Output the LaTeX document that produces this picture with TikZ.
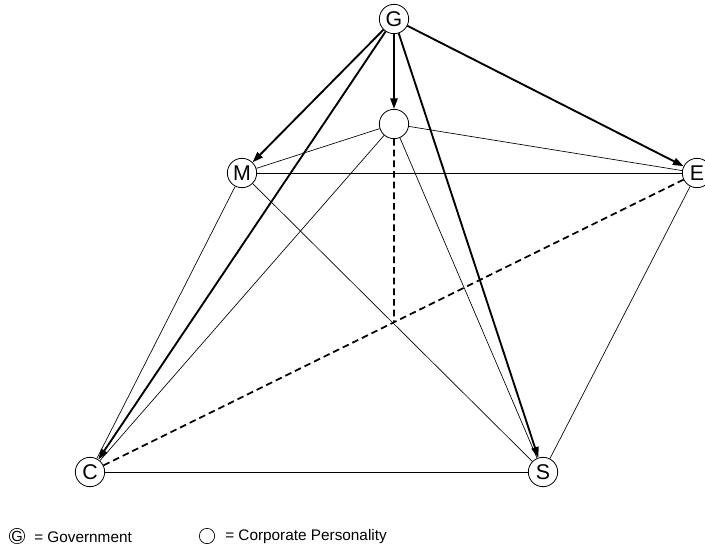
\documentclass[tikz,border=0pt]{standalone}
\usepackage{fontspec}
\setmainfont{Liberation Sans}
\usetikzlibrary{arrows.meta}
\begin{document}
\begin{tikzpicture}[x=0.75pt,y=-0.75pt,
  actor/.style={circle,draw,line width=0.6pt,minimum size=22pt,inner sep=0pt,font=\fontsize{16}{17}\selectfont},
  legcirc/.style={circle,draw,line width=0.5pt,minimum size=11.5pt,inner sep=0pt,font=\fontsize{11}{12}\selectfont},
  legtext/.style={anchor=west,inner sep=0pt,font=\fontsize{11.5}{12}\selectfont},
  thin link/.style={line width=0.5pt},
  gov arrow/.style={line width=1.4pt,-{Triangle[length=8pt,width=5.5pt]}},
  dash link/.style={line width=1.3pt,dash pattern=on 5pt off 3pt}]
\useasboundingbox (0,0) rectangle (705,546);
\node[actor] (G) at (394,19) {G};
\node[actor] (P) at (394,124) {};
\node[actor] (M) at (242,173) {M};
\node[actor] (E) at (697,173) {E};
\node[actor] (C) at (90,472) {C};
\node[actor] (S) at (543,472) {S};
\coordinate (Pb) at (P |- C);
\coordinate (X) at (intersection of C--E and P--Pb);
% thin links
\draw[thin link] (P) -- (M);
\draw[thin link] (P) -- (C);
\draw[thin link] (P) -- (S);
\draw[thin link] (P) -- (E);
\draw[thin link] (M) -- (E);
\draw[thin link] (M) -- (C);
\draw[thin link] (M) -- (S);
\draw[thin link] (E) -- (S);
\draw[thin link] (C) -- (S);
% dashed
\draw[dash link] (C) -- (E);
\draw[dash link] (P) -- (X);
% government arrows
\draw[gov arrow] (G) -- (P);
\draw[gov arrow] (G) -- (M);
\draw[gov arrow] (G) -- (C);
\draw[gov arrow] (G) -- (S);
\draw[gov arrow] (G) -- (E);
% legend
\node[legcirc] (LG) at (17,536) {G};
\node[legtext] (LGt) at (34,537) {= Government};
\node[legcirc] (LP) at (207,536) {};
\node[legtext] (LPt) at (225,537) {= Corporate Personality};
\end{tikzpicture}
\end{document}
